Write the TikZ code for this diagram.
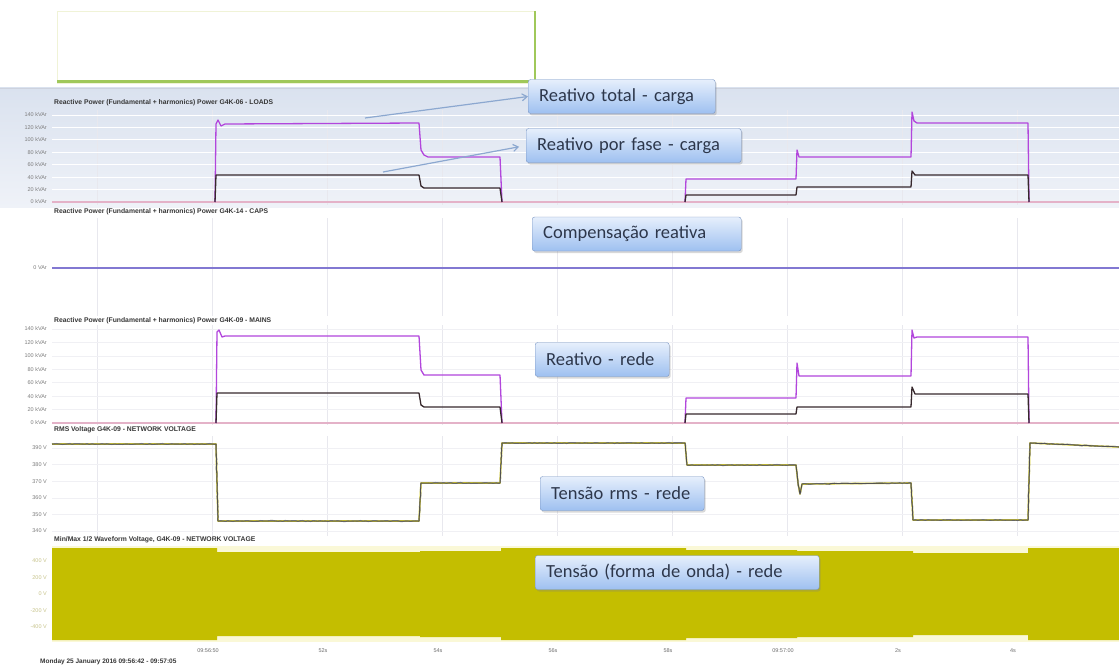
\documentclass[tikz,border=0pt]{standalone}
\usepackage{fontspec}
\setmainfont{Carlito}
\setsansfont{Liberation Sans}
\usetikzlibrary{arrows.meta,shadows,decorations.pathmorphing}
\pgfmathsetseed{12}
\begin{document}
\begin{tikzpicture}[x=1pt,y=-1pt,
	callout/.style={draw={rgb,255:red,122;green,150;blue,196},rounded corners=2.5pt,top color={rgb,255:red,230;green,239;blue,252},bottom color={rgb,255:red,158;green,192;blue,240},drop shadow={shadow xshift=1.5pt,shadow yshift=-2pt,opacity=0.3},font=\fontsize{18.5}{20}\selectfont,text={rgb,255:red,45;green,55;blue,75},anchor=west,align=left,inner xsep=11pt,minimum height=34pt},
	ptitle/.style={font=\sffamily\bfseries\fontsize{6.8}{8}\selectfont,text={rgb,255:red,55;green,55;blue,55},anchor=west,inner sep=0pt},
	ylab/.style={font=\sffamily\fontsize{5.5}{6}\selectfont,text={rgb,255:red,125;green,125;blue,125},anchor=east,inner sep=0pt},
	xlab/.style={font=\sffamily\fontsize{5.5}{6}\selectfont,text={rgb,255:red,110;green,110;blue,110},inner sep=0pt},
	pointer/.style={draw={rgb,255:red,140;green,168;blue,208},line width=1.2pt,-{Straight Barb[length=5pt,width=7pt]}},
	vgrid/.style={draw={rgb,255:red,232;green,232;blue,238},line width=0.8pt},
	hgrid/.style={draw={rgb,255:red,240;green,240;blue,244},line width=0.6pt},
	total/.style={draw={rgb,255:red,178;green,70;blue,220},line width=1.3pt,line join=round},
	phase/.style={draw={rgb,255:red,55;green,40;blue,45},line width=1.3pt,line join=round},
	zero/.style={draw={rgb,255:red,228;green,178;blue,200},line width=1.3pt},
	vtrace/.style={draw={rgb,255:red,215;green,205;blue,40},line width=1.6pt,line join=round,
		postaction={draw={rgb,255:red,125;green,125;blue,118},line width=1.1pt,decorate,decoration={random steps,segment length=2.5pt,amplitude=0.5pt}},
		postaction={draw={rgb,255:red,60;green,60;blue,60},line width=0.5pt}}
]
	\useasboundingbox (0,0) rectangle (1119,666);
	\fill[white] (0,0) rectangle (1119,666);
	\draw[draw={rgb,255:red,240;green,243;blue,215},fill=white] (57,11) rectangle (535,83);
	\draw[draw={rgb,255:red,160;green,200;blue,90},line width=3pt] (57,82) -- (536,82);
	\draw[draw={rgb,255:red,160;green,200;blue,90},line width=1.5pt] (535,11) -- (535,83);
	\shade[top color={rgb,255:red,218;green,226;blue,239},bottom color={rgb,255:red,239;green,242;blue,248}] (0,88) rectangle (1119,207);
	\draw[draw={rgb,255:red,205;green,210;blue,222}] (0,88) -- (1119,88);
	\foreach \gx in {97,212,...,1017} {
		\draw[vgrid] (\gx,110) -- (\gx,205);
		\draw[vgrid] (\gx,218) -- (\gx,316);
		\draw[vgrid] (\gx,325) -- (\gx,425);
		\draw[vgrid] (\gx,436) -- (\gx,536);
	}
	\node[ptitle] (tLoads) at (54,103) {Reactive Power (Fundamental + harmonics) Power G4K-06 - LOADS};
	\foreach \lab [count=\k from 0] in {140,120,100,80,60,40,20,0} {
		\node[ylab] (la\k) at (47,{115+12.43*\k}) {\lab\ kVAr};
		\draw[draw=white,line width=0.8pt] (52,{115+12.43*\k}) -- (1119,{115+12.43*\k});
	}
	\draw[zero] (52,202) -- (1119,202);
	\draw[total] (215,202) -- (216,124) -- (218,120) -- (221,126) -- (225,124) -- (419,123) -- (421,150) -- (424,155) -- (428,157) -- (500,157) -- (502,202);
	\draw[total] (685,202) -- (686,179) -- (796,179) -- (797,150) -- (799,157) -- (911,157) -- (912,112) -- (914,121) -- (917,123) -- (1028,123) -- (1029,202);
	\draw[phase] (215,202) -- (216,175) -- (419,175) -- (421,186) -- (424,188) -- (500,188) -- (502,202);
	\draw[phase] (685,202) -- (686,195) -- (796,195) -- (797,187) -- (911,187) -- (912,171) -- (915,175) -- (1028,175) -- (1029,202);
	\node[ptitle] (tCaps) at (54,212) {Reactive Power (Fundamental + harmonics) Power G4K-14 - CAPS};
	\node[ylab] (lc0) at (47,268) {0 VAr};
	\draw[draw={rgb,255:red,130;green,120;blue,210},line width=1.2pt] (52,268) -- (1119,268);
	\node[ptitle] (tMains) at (54,321) {Reactive Power (Fundamental + harmonics) Power G4K-09 - MAINS};
	\foreach \lab [count=\k from 0] in {140,120,100,80,60,40,20,0} {
		\node[ylab] (lm\k) at (47,{329+13.43*\k}) {\lab\ kVAr};
		\draw[hgrid] (52,{329+13.43*\k}) -- (1119,{329+13.43*\k});
	}
	\draw[zero] (52,423) -- (1119,423);
	\draw[total] (216,423) -- (217,332) -- (219,330) -- (222,337) -- (225,336) -- (419,336) -- (421,370) -- (424,375) -- (500,375) -- (502,423);
	\draw[total] (685,423) -- (686,398) -- (796,398) -- (797,363) -- (799,376) -- (911,376) -- (912,330) -- (914,338) -- (917,337) -- (1028,337) -- (1029,423);
	\draw[phase] (216,423) -- (217,393) -- (419,393) -- (421,405) -- (424,407) -- (500,407) -- (502,423);
	\draw[phase] (685,423) -- (686,414) -- (796,414) -- (797,407) -- (911,407) -- (912,387) -- (915,394) -- (1028,394) -- (1029,423);
	\node[ptitle] (tRms) at (54,430) {RMS Voltage G4K-09 - NETWORK VOLTAGE};
	\foreach \lab [count=\k from 0] in {390,380,370,360,350,340} {
		\node[ylab] (lv\k) at (47,{448+16.6*\k}) {\lab\ V};
		\draw[hgrid] (52,{448+16.6*\k}) -- (1119,{448+16.6*\k});
	}
	\draw[vtrace] (52,444) -- (216,444) -- (218,521) -- (419,521) -- (421,483) -- (500,483) -- (502,443) -- (685,443) -- (687,465) -- (796,465) -- (798,483) -- (800,494) -- (802,484) -- (911,483) -- (913,520) -- (1028,520) -- (1030,443) -- (1119,447);
	\node[ptitle] (tWave) at (54,540) {Min/Max 1/2 Waveform Voltage, G4K-09 - NETWORK VOLTAGE};
	\fill[fill={rgb,255:red,250;green,248;blue,215}] (52,546) rectangle (1119,642);
	\fill[fill={rgb,255:red,196;green,190;blue,0}] (52,548) -- (217,548) -- (217,552) -- (420,552) -- (420,551) -- (501,551) -- (501,548) -- (686,548) -- (686,550) -- (797,550) -- (797,551) -- (913,551) -- (913,553) -- (1028,553) -- (1028,548) -- (1119,548)
		-- (1119,640) -- (1028,640) -- (1028,635) -- (913,635) -- (913,637) -- (797,637) -- (797,638) -- (686,638) -- (686,640) -- (501,640) -- (501,637) -- (420,637) -- (420,636) -- (217,636) -- (217,640) -- (52,640) -- cycle;
	\foreach \lab [count=\k from 0] in {400,200,0,-200,-400} {
		\node[ylab,text={rgb,255:red,200;green,196;blue,140}] (lw\k) at (47,{561+16.5*\k}) {\lab\ V};
	}
	\foreach \lab [count=\k from 0] in {09:56:50,52s,54s,56s,58s,09:57:00,2s,4s} {
		\node[xlab] (lt\k) at ({208+115*\k},651) {\lab};
	}
	\node[ptitle,font=\sffamily\bfseries\fontsize{6.5}{7}\selectfont] (tDate) at (40,662) {Monday 25 January 2016 09:56:42 - 09:57:05};
	\node[callout,text width=165pt] (ctot) at (528,96.5) {Reativo total - carga};
	\node[callout,text width=193pt] (cfase) at (526,145.5) {Reativo por fase - carga};
	\node[callout,text width=187pt] (ccomp) at (532,234) {Compensação reativa};
	\node[callout,text width=112pt] (crede) at (535,359.5) {Reativo - rede};
	\node[callout,text width=142pt] (crms) at (540,493.5) {Tensão rms - rede};
	\node[callout,text width=262pt] (conda) at (535,572.5) {Tensão (forma de onda) - rede};
	\coordinate (aTot) at (365,118);
	\coordinate (aFase) at (383,172);
	\draw[pointer] (aTot) -- (ctot.west);
	\draw[pointer,shorten >=7pt] (aFase) -- (cfase.west);
\end{tikzpicture}
\end{document}
